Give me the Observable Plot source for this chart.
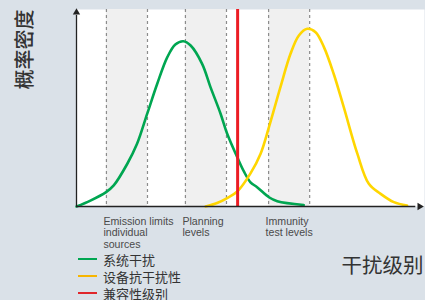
<!DOCTYPE html>
<html>
<head>
<meta charset="utf-8">
<script src="https://cdn.jsdelivr.net/npm/d3@7"></script>
<script src="https://cdn.jsdelivr.net/npm/@observablehq/plot@0.6"></script>
<style>
  html, body { margin: 0; padding: 0; background: #dae1e8; }
  #wrap { position: relative; width: 425px; height: 300px; overflow: hidden; }
  #legend { position: absolute; left: 78px; top: 250.5px; font-family: "Noto Sans CJK SC", sans-serif; font-size: 13px; line-height: 15px; color: #333; }
  .item { display: flex; align-items: center; height: 17px; }
  .sw { width: 19px; height: 0; border-top: 2.5px solid; margin-right: 6px; }
</style>
</head>
<body>
<div id="wrap"><div id="legend"></div></div>
<script>
// interference level (arbitrary units 0..100) vs probability density (0..1)
const greenX = [0, 4.0, 8.5, 10.7, 14.6, 17.4, 20.3, 23.2, 26.1, 28.4, 30.7, 32.8, 36.1, 38.5, 41.4, 43.3, 46.2, 48.1, 50.0, 51.9, 55.3, 57.7, 65.3];
const greenY = [0, 0.03, 0.073, 0.107, 0.217, 0.318, 0.47, 0.623, 0.758, 0.822, 0.839, 0.817, 0.724, 0.606, 0.471, 0.369, 0.25, 0.178, 0.123, 0.098, 0.047, 0.027, 0.008];
const yellowX = [37.1, 40.4, 43.3, 46.2, 50.0, 52.9, 55.3, 58.6, 61.5, 63.9, 66.3, 68.7, 71.1, 73.9, 76.8, 80.7, 84.0, 87.4, 91.2, 95.0];
const yellowY = [0, 0.018, 0.043, 0.076, 0.168, 0.268, 0.403, 0.606, 0.775, 0.868, 0.902, 0.885, 0.809, 0.674, 0.504, 0.268, 0.115, 0.064, 0.022, 0.005];
const compatLevel = 46.3;
const dashedLevels = [8.6, 20.4, 31.3, 43.1, 55.2, 67.0];
const bandStarts = [8.6, 31.3, 55.2];
const bandEnds = [20.4, 43.1, 67.0];
const bandLabels = [["Emission limits", "individual", "sources"], ["Planning", "levels"], ["Immunity", "test levels"]];
const seriesNames = ["系统干扰", "设备抗干扰性", "兼容性级别"];
const seriesColors = ["#00a651", "#f7b500", "#e0262b"];
const yTitle = "概率密度";
const xTitle = "干扰级别";

const green = greenX.map((x, i) => ({x, y: greenY[i]}));
const yellow = yellowX.map((x, i) => ({x, y: yellowY[i]}));
const bands = bandStarts.map((s, i) => ({x1: s, x2: bandEnds[i]}));
const labelLines = bandStarts.flatMap((s, i) => bandLabels[i].map((t, j) => ({x: s, line: j, text: t})));

const chart = Plot.plot({
  width: 425,
  height: 300,
  marginLeft: 76,
  marginRight: 1,
  marginTop: 9,
  marginBottom: 94,
  x: {domain: [0, 100], axis: null},
  y: {domain: [0, 1], axis: null},
  style: {background: "transparent", overflow: "visible"},
  marks: [
    Plot.frame({fill: "white", stroke: null}),
    Plot.rect(bands, {x1: "x1", x2: "x2", fill: "#f0f0f0"}),
    Plot.ruleX(dashedLevels, {stroke: "#8c8c8c", strokeWidth: 1.2, strokeDasharray: "3,3"}),
    Plot.line(green, {x: "x", y: "y", stroke: "#00a651", strokeWidth: 2.6, curve: "catmull-rom"}),
    Plot.line(yellow, {x: "x", y: "y", stroke: "#ffd600", strokeWidth: 2.6, curve: "catmull-rom"}),
    Plot.ruleX([compatLevel], {stroke: "#ec1c24", strokeWidth: 3}),
    Plot.ruleX([0], {y1: 0, y2: 0.97, stroke: "#222", strokeWidth: 1.3}),
    Plot.ruleY([0], {x1: 0, x2: 97.5, stroke: "#222", strokeWidth: 1.3}),
    Plot.dot([0], {x: d => d, y: 0.985, symbol: "triangle2", r: 3.5, fill: "#222", stroke: null}),
    Plot.dot([0], {x: 98.6, y: d => d, symbol: "triangle2", r: 3.5, fill: "#222", stroke: null, rotate: 90}),
    ...[0, 1, 2].map(j => Plot.text(labelLines.filter(d => d.line === j), {
      x: "x", text: "text", frameAnchor: "bottom", textAnchor: "start", lineAnchor: "middle",
      dy: 15 + j * 11.4, dx: -3, fontSize: 10.6, fill: "#4a4a4a", fontFamily: "Liberation Sans"
    })),
    Plot.text([yTitle], {frameAnchor: "top-left", dx: -59, dy: 40, rotate: -90, textAnchor: "middle", fontSize: 20, fontWeight: 500, fill: "#333", fontFamily: "Noto Sans CJK SC"}),
    Plot.text([xTitle], {frameAnchor: "bottom-right", dx: -1, dy: 66, textAnchor: "end", fontSize: 20.5, fill: "#333", fontFamily: "Noto Sans CJK SC"})
  ]
});
chart.style.position = "absolute";
chart.style.left = "0";
chart.style.top = "0";
document.getElementById("wrap").prepend(chart);

const legend = d3.select("#legend");
seriesNames.forEach((n, i) => {
  const item = legend.append("div").attr("class", "item");
  item.append("div").attr("class", "sw").style("border-color", seriesColors[i]);
  item.append("span").text(n);
});
</script>
</body>
</html>
